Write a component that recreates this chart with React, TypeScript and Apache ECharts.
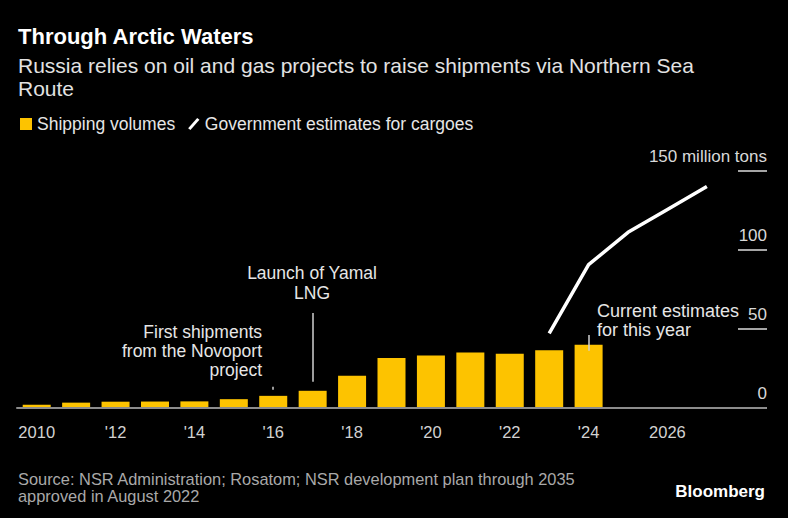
import React, { useEffect, useRef } from "react";
import * as echarts from "echarts";

const years = ["2010","2011","2012","2013","2014","2015","2016","2017","2018","2019","2020","2021","2022","2023","2024","2025","2026","2027","2028"];
const shippingVolumes = [1.9, 3.2, 3.8, 3.9, 4.0, 5.4, 7.5, 10.7, 20.2, 31.5, 33.0, 34.9, 34.1, 36.3, 39.9, null, null, null, null];
const governmentEstimates = [null, null, null, null, null, null, null, null, null, null, null, null, null, 47, 90.5, 111, 125.5, 140, null];
const yTicks = [0, 50, 100, 150];
const labeledYears = ["2010", "2012", "2014", "2016", "2018", "2020", "2022", "2024", "2026"];

const FONT = "'Liberation Sans', Arial, Helvetica, sans-serif";

export default function App() {
  const ref = useRef<HTMLDivElement>(null);
  useEffect(() => {
    document.body.style.margin = "0";
    document.body.style.background = "#000";
    const chart = echarts.init(ref.current!, null, { renderer: "svg" });
    const isLabeled = (i: number) => labeledYears.indexOf(years[i]) >= 0;
    const option: any = {
      animation: false,
      backgroundColor: "#000",
      textStyle: { fontFamily: FONT },
      grid: { left: 17, right: 22, top: 170.7, bottom: 518 - 407.7 },
      legend: {
        left: 20,
        top: 115,
        padding: 0,
        itemWidth: 12,
        itemHeight: 12,
        itemGap: 13,
        textStyle: { color: "#e6e6e6", fontSize: 17.5, fontFamily: FONT },
        data: [
          { name: "Shipping volumes", icon: "rect" },
          { name: "Government estimates for cargoes", icon: "path://M0,9 L8,0 L10,1.6 L2,10.6 Z" },
        ],
      },
      xAxis: {
        type: "category",
        data: years,
        boundaryGap: true,
        z: 3,
        axisLine: { lineStyle: { color: "#8c8c8c", width: 2 } },
        axisTick: { alignWithLabel: true, interval: (i: number) => isLabeled(i), length: 7, lineStyle: { color: "#8c8c8c", width: 1.5 } },
        axisLabel: {
          interval: (i: number) => isLabeled(i),
          margin: 16,
          color: "#d2d2d2",
          fontSize: 16.5,
          fontFamily: FONT,
          formatter: (v: string) => (v === "2010" || v === "2026" ? v : "'" + v.slice(2)),
        },
        splitLine: { show: false },
      },
      yAxis: {
        type: "value",
        position: "right",
        min: 0,
        max: 150,
        interval: 50,
        offset: 1,
        z: 1,
        axisLine: { show: false },
        axisTick: { show: true, inside: true, length: 29, lineStyle: { color: "#dcdcdc", width: 1.5 } },
        splitLine: { show: false },
        axisLabel: {
          inside: true,
          margin: 0,
          verticalAlign: "bottom",
          padding: [0, 0, 6, 0],
          color: "#d8d8d8",
          fontSize: 17,
          fontFamily: FONT,
          formatter: (v: number) => (v === yTicks[3] ? v + " million tons" : String(v)),
        },
      },
      series: [
        {
          name: "Shipping volumes",
          type: "bar",
          data: shippingVolumes,
          barWidth: 28,
          itemStyle: { color: "#fdc300" },
          z: 2,
          markLine: {
            silent: true,
            symbol: "none",
            label: { show: false },
            lineStyle: { color: "#d0d0d0", width: 1.5, type: "solid" },
            data: [
              [{ coord: ["2016", 13.3] }, { coord: ["2016", 11.4] }],
              [{ coord: ["2017", 60] }, { coord: ["2017", 16.5] }],
              [{ coord: ["2024", 46] }, { coord: ["2024", 36] }],
            ],
          },
        },
        {
          name: "Government estimates for cargoes",
          type: "line",
          data: governmentEstimates,
          symbol: "none",
          connectNulls: false,
          itemStyle: { color: "#ffffff" },
          lineStyle: { color: "#ffffff", width: 3.5 },
          z: 4,
        },
      ],
      graphic: [
        { type: "text", left: 18, top: 25, style: { text: "Through Arctic Waters", fill: "#ffffff", font: "bold 22px " + FONT } },
        {
          type: "text", left: 18, top: 54,
          style: { text: "Russia relies on oil and gas projects to raise shipments via Northern Sea\nRoute", fill: "#e2e2e2", font: "21px " + FONT, lineHeight: 23 },
        },
        {
          type: "text", x: 312, y: 263,
          style: { text: "Launch of Yamal\nLNG", fill: "#e6e6e6", font: "17.5px " + FONT, lineHeight: 20, align: "center", verticalAlign: "top" },
        },
        {
          type: "text", x: 262, y: 322,
          style: { text: "First shipments\nfrom the Novoport\nproject", fill: "#e6e6e6", font: "17.5px " + FONT, lineHeight: 19, align: "right", verticalAlign: "top" },
        },
        {
          type: "text", x: 597, y: 302,
          style: { text: "Current estimates\nfor this year", fill: "#e6e6e6", font: "18px " + FONT, lineHeight: 18.5, align: "left", verticalAlign: "top" },
        },
        {
          type: "text", x: 18, y: 470,
          style: { text: "Source: NSR Administration; Rosatom; NSR development plan through 2035\napproved in August 2022", fill: "#a9a9a9", font: "16.4px " + FONT, lineHeight: 17, verticalAlign: "top" },
        },
        {
          type: "text", x: 765, y: 491,
          style: { text: "Bloomberg", fill: "#ffffff", font: "bold 17px " + FONT, align: "right", verticalAlign: "middle" },
        },
      ],
    };
    chart.setOption(option);
    return () => chart.dispose();
  }, []);
  return <div ref={ref} style={{ width: 788, height: 518, background: "#000" }} />;
}
